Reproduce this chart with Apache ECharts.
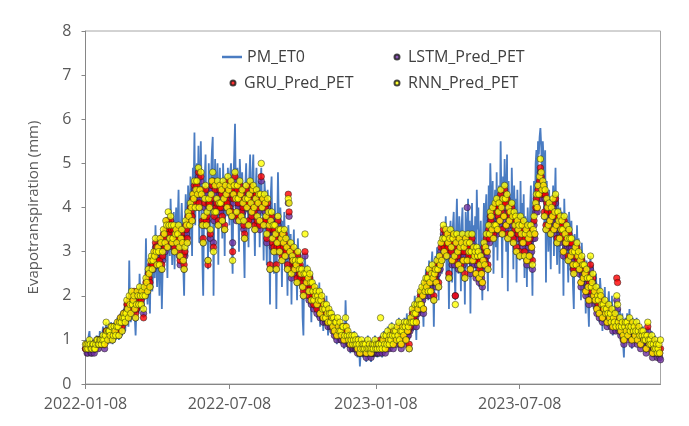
<!DOCTYPE html>
<html><head><meta charset="utf-8">
<script src="https://cdn.jsdelivr.net/npm/echarts@6/dist/echarts.min.js"></script>
<style>html,body{margin:0;padding:0;background:#fff}#c{width:689px;height:426px}</style>
</head><body><div id="c"></div>
<script>
const startDate = [2022, 0, 8];
const tickLabels = ['2022-01-08', '2022-07-08', '2023-01-08', '2023-07-08'];
const seriesNames = ['PM_ET0', 'LSTM_Pred_PET', 'GRU_Pred_PET', 'RNN_Pred_PET'];

const pmET0 = [
0.9,1.0,0.8,0.7,1.1,1.2,0.9,0.8,0.7,0.9,
1.0,0.8,0.7,0.9,1.1,1.0,0.8,0.9,1.2,1.0,
0.9,1.1,1.3,1.0,0.8,1.2,1.4,1.1,0.9,1.3,
1.2,1.0,1.4,1.3,0.9,1.1,1.4,1.2,1.0,1.3,
1.5,1.2,1.0,1.4,1.6,1.3,1.1,1.5,1.7,1.4,
1.2,1.6,1.8,1.5,1.3,2.8,1.7,1.4,1.9,1.6,
1.8,2.0,1.5,1.1,1.7,2.1,1.9,1.6,2.5,2.0,
1.7,2.2,1.9,1.5,2.4,2.0,3.3,2.2,1.8,2.6,
2.3,1.6,2.7,2.9,2.1,2.5,3.0,2.4,3.6,2.8,
2.2,3.1,2.7,2.0,3.3,2.9,1.7,2.6,3.4,3.0,
2.8,3.6,3.2,2.4,3.8,3.4,2.9,4.2,3.5,2.7,
3.3,3.9,2.6,3.5,4.0,3.1,3.7,4.4,3.2,2.8,
3.6,4.1,3.4,2.6,2.0,3.5,4.3,3.9,2.9,4.5,
4.0,3.3,4.7,4.2,2.9,4.9,4.4,5.7,3.6,4.8,
5.0,4.1,5.4,3.2,4.6,5.5,4.3,2.8,2.0,3.8,
4.7,5.2,3.5,4.4,2.6,5.0,4.1,3.0,4.8,5.3,
5.6,2.0,4.2,5.1,3.6,4.5,5.0,2.7,4.4,4.9,
4.0,4.6,3.3,5.0,4.3,2.9,4.7,4.4,3.8,4.9,
4.5,3.6,4.8,5.0,3.2,2.5,4.6,5.2,5.9,4.4,
3.7,4.9,4.2,3.0,5.1,4.6,3.5,4.8,4.1,3.3,
2.4,4.5,5.0,3.9,4.3,3.1,4.7,5.2,4.0,3.6,
4.8,5.2,3.9,2.9,4.4,4.9,3.6,4.2,4.6,3.1,
4.5,4.9,3.8,4.1,2.8,4.6,4.3,3.4,2.7,4.4,
4.0,3.5,1.8,4.3,4.7,3.2,3.9,2.5,4.1,3.6,
1.7,3.4,4.8,3.8,2.9,4.0,3.5,2.2,3.7,3.3,
3.9,2.6,3.5,3.1,2.0,3.6,3.3,2.8,3.4,1.8,
3.2,2.9,3.5,2.4,3.1,2.7,1.9,3.3,2.8,2.5,
3.0,2.2,2.7,1.5,1.1,2.6,2.9,2.3,2.0,2.7,
2.4,1.8,2.6,2.2,1.4,2.5,2.1,1.7,2.3,1.9,
2.2,1.5,2.0,1.8,2.3,1.3,1.9,2.1,1.6,1.2,
1.9,1.7,1.4,2.0,1.5,1.1,1.8,1.6,1.3,1.7,
1.5,1.2,1.6,1.0,1.4,1.3,0.9,1.5,1.2,1.1,
1.4,1.1,0.9,1.3,1.2,0.8,1.0,1.9,1.3,1.0,
1.1,0.9,1.2,0.7,1.0,1.1,0.8,0.9,1.2,0.7,
1.0,0.8,0.6,1.1,0.9,0.4,0.7,1.0,0.8,0.6,
0.9,0.7,1.0,0.5,0.8,1.1,0.6,0.9,0.7,0.5,
0.8,1.0,0.6,0.9,1.1,0.7,0.8,0.6,1.0,0.9,
0.7,1.1,0.8,0.6,1.0,1.2,0.9,0.7,1.1,0.8,
1.3,1.0,0.8,1.2,0.9,1.4,1.1,0.8,1.3,1.0,
1.2,0.9,1.4,1.1,1.5,1.0,1.3,0.8,1.2,1.4,
1.1,1.5,1.3,0.9,1.6,1.2,1.4,1.0,1.5,1.7,
1.4,1.8,1.2,1.6,2.0,1.5,1.0,1.9,1.7,2.1,
1.8,2.2,1.6,2.3,1.9,1.3,2.4,2.0,2.6,2.2,
2.5,1.9,2.8,2.3,2.0,2.7,3.0,2.4,1.3,2.6,
2.9,2.2,3.1,2.6,1.9,3.0,2.7,3.4,2.5,3.2,
3.6,2.8,3.3,3.8,2.4,3.5,3.1,1.7,3.4,3.7,
3.0,2.3,3.6,3.9,2.7,1.9,3.5,4.2,3.2,2.5,
3.8,3.3,2.1,3.6,4.0,2.8,3.4,1.8,3.9,3.5,
2.6,4.2,3.1,3.7,1.6,3.3,4.1,2.9,3.6,3.0,
3.8,2.4,4.4,3.5,4.0,2.2,3.2,3.7,2.7,1.9,
3.4,4.1,2.6,3.9,4.3,3.0,2.1,4.5,3.6,5.0,
4.2,3.3,4.6,2.5,3.8,4.4,3.1,4.8,2.8,4.0,
4.5,3.6,5.5,4.1,2.4,4.7,3.9,5.1,4.4,3.0,
5.2,2.1,4.6,3.8,4.3,3.2,4.9,4.0,2.6,4.5,
3.7,4.2,2.3,4.4,3.5,3.9,2.8,4.6,3.3,4.1,
3.0,4.3,2.4,3.8,3.6,2.2,4.0,3.4,2.6,3.9,
4.5,3.2,2.0,4.1,4.6,3.6,5.0,5.3,4.4,5.5,
5.2,5.6,5.8,5.4,4.8,5.5,5.1,3.6,5.3,2.3,
4.6,4.0,3.0,4.4,3.5,2.6,4.2,3.8,4.5,2.9,
4.1,4.9,3.4,2.7,4.3,3.7,2.5,4.0,3.3,3.9,
3.6,2.0,4.2,3.4,2.8,3.8,3.1,2.3,3.9,3.5,
2.6,3.7,3.0,2.2,1.7,3.4,3.2,2.5,3.6,2.9,
3.3,2.4,3.0,1.9,3.2,2.7,2.1,2.9,2.5,1.6,
2.8,2.3,1.8,1.3,2.6,2.9,2.0,2.4,2.7,1.7,
2.3,2.0,2.5,1.6,2.2,1.9,1.4,2.4,2.1,1.8,
1.2,2.0,1.7,2.2,1.5,1.9,1.3,1.8,2.1,1.6,
1.8,1.4,2.0,1.1,1.7,1.5,1.9,1.2,1.6,1.8,
1.5,1.3,1.7,1.0,1.4,1.6,0.9,0.6,1.3,1.5,
1.2,1.6,1.0,1.4,1.7,1.1,1.3,0.8,1.5,1.2,
1.4,1.0,1.3,1.5,0.9,1.2,1.4,1.1,0.8,1.3,
1.1,1.3,0.9,1.2,1.0,0.7,1.2,1.3,1.0,0.8,
1.1,0.9,1.2,0.6,1.0,0.8,1.1,0.7,0.9,0.6,
0.8,0.6,0.7,0.55
];

const lstmPred = [
0.8,0.8,0.7,0.7,0.8,0.9,0.8,0.7,0.7,0.8,
0.8,0.7,0.8,0.8,0.9,0.9,0.8,0.9,0.9,0.9,
0.9,0.9,1.0,0.9,0.8,1.0,1.2,1.1,1.0,1.1,
1.1,1.0,1.2,1.2,1.0,1.1,1.2,1.2,1.1,1.2,
1.3,1.3,1.1,1.3,1.4,1.4,1.2,1.4,1.5,1.5,
1.4,1.5,1.7,1.7,1.5,1.8,1.8,1.6,1.9,1.8,
1.8,1.9,1.7,1.5,1.7,1.9,2.0,1.8,2.0,2.0,
1.8,2.0,2.0,1.6,2.0,2.0,2.2,2.1,2.1,2.4,
2.3,2.2,2.6,2.7,2.6,2.6,2.8,2.9,3.1,3.0,
2.7,2.9,3.0,2.7,3.1,3.1,2.6,2.8,3.3,3.2,
3.0,3.4,3.5,3.1,3.6,3.4,3.2,3.6,3.4,3.2,
3.1,3.4,3.0,3.2,3.3,3.2,3.2,3.4,2.9,2.7,
3.1,3.3,3.2,2.8,2.6,2.9,3.5,3.4,3.2,3.7,
3.6,3.6,3.9,3.8,3.7,4.1,4.2,4.4,4.0,4.2,
4.4,4.3,4.7,4.0,4.2,4.6,4.3,3.6,3.2,3.6,
4.0,4.3,3.6,3.7,2.8,4.0,4.0,3.3,4.1,4.4,
4.5,3.2,3.7,4.3,3.9,4.0,4.4,3.6,3.9,4.3,
3.9,4.2,3.7,4.4,4.0,3.5,4.3,4.1,4.0,4.5,
4.2,3.9,4.3,4.4,3.8,3.2,4.1,4.3,4.6,4.2,
3.7,4.3,4.0,3.7,4.4,4.1,3.8,4.2,3.9,3.5,
3.3,4.0,4.3,4.0,4.0,3.6,4.1,4.4,3.9,3.7,
4.2,4.3,3.8,3.5,4.0,4.2,3.6,3.9,4.1,3.5,
4.1,4.6,4.0,4.0,3.6,4.1,3.9,3.6,3.2,4.0,
3.7,3.4,2.6,3.5,3.7,3.1,3.4,3.0,3.4,3.2,
2.6,3.0,3.6,3.3,3.0,3.3,3.1,2.8,3.2,3.0,
3.3,2.9,3.1,2.9,2.6,4.1,3.8,3.0,3.0,2.4,
2.7,2.6,2.9,2.5,2.6,2.5,2.3,2.8,2.6,2.4,
2.6,2.3,2.4,2.2,2.0,2.3,2.9,2.3,2.1,2.4,
2.2,1.9,2.3,2.1,1.8,2.1,1.9,1.7,2.0,1.8,
1.9,1.6,1.8,1.7,1.9,1.5,1.7,1.8,1.5,1.4,
1.6,1.5,1.4,1.6,1.4,1.3,1.5,1.4,1.3,1.4,
1.3,1.2,1.3,1.1,1.2,1.2,1.0,1.3,1.1,1.1,
1.2,1.0,1.0,1.1,1.1,0.9,1.0,1.2,1.1,1.0,
1.0,0.9,0.9,0.8,0.9,0.9,0.8,0.8,0.9,0.8,
0.8,0.8,0.7,0.8,0.8,0.7,0.7,0.8,0.8,0.7,
0.7,0.7,0.7,0.6,0.7,0.8,0.7,0.7,0.7,0.6,
0.7,0.7,0.7,0.7,0.8,0.7,0.7,0.7,0.7,0.8,
0.7,0.9,0.8,0.7,0.8,0.9,0.8,0.7,0.9,0.8,
1.0,0.9,0.8,0.9,0.9,1.1,1.0,0.8,1.0,1.0,
1.0,0.9,1.1,1.0,1.2,0.9,1.0,0.8,1.0,1.1,
1.0,1.2,1.2,0.9,1.2,1.1,1.1,0.8,1.2,1.3,
1.3,1.5,1.3,1.4,1.6,1.5,1.3,1.6,1.6,1.7,
1.7,1.9,1.7,2.0,1.9,1.6,2.1,2.0,2.2,2.1,
2.2,2.0,2.4,2.2,2.0,2.3,2.5,2.3,1.9,2.3,
2.4,2.2,2.6,2.5,2.2,2.7,2.6,3.0,2.8,3.1,
3.4,3.0,3.1,3.3,2.9,3.2,3.0,2.4,3.1,3.3,
2.9,2.7,3.1,3.2,2.7,2.0,3.0,3.2,2.8,2.6,
3.1,2.9,2.6,3.0,3.2,2.7,2.9,2.4,3.1,3.0,
4.0,3.2,2.8,3.0,2.5,2.8,3.2,2.7,2.9,2.7,
2.8,2.4,2.9,2.7,2.8,2.3,2.5,2.7,2.4,2.2,
2.6,3.0,2.7,2.9,3.2,2.9,2.6,3.4,3.2,3.7,
3.6,3.4,3.8,3.3,3.4,3.9,3.5,4.0,3.4,3.7,
3.9,3.6,4.2,3.8,3.4,4.0,3.7,4.3,4.0,3.5,
4.1,3.3,3.8,3.6,3.7,3.3,3.9,3.6,3.2,3.7,
3.4,3.6,3.0,3.5,3.3,3.4,2.9,3.6,3.2,3.4,
3.1,3.5,2.9,3.2,3.3,2.7,3.4,3.1,2.8,3.2,
3.4,3.0,2.6,3.3,3.6,3.3,3.9,4.1,3.9,4.3,
4.2,4.5,4.8,4.6,4.2,4.4,4.3,3.8,4.2,3.5,
4.0,3.8,3.5,3.9,3.6,3.4,3.8,3.7,4.0,3.4,
3.7,4.1,3.5,3.2,3.7,3.5,3.2,3.6,3.4,3.5,
3.3,2.9,3.6,3.2,3.1,3.4,3.1,2.8,3.3,3.1,
2.8,3.1,2.9,2.6,2.5,2.8,2.9,2.6,3.0,2.7,
2.8,2.5,2.6,2.2,2.7,2.5,2.3,2.5,2.4,2.0,
2.4,2.3,2.1,1.8,2.2,2.6,2.0,2.1,2.3,1.9,
1.9,1.8,2.0,1.6,1.8,1.7,1.5,1.9,1.8,1.6,
1.4,1.6,1.5,1.7,1.5,1.5,1.3,1.4,1.6,1.4,
1.4,1.3,1.5,1.2,1.3,1.3,1.4,1.2,1.9,1.7,
1.3,1.2,1.3,1.1,1.2,1.2,1.0,0.9,1.1,1.2,
1.1,1.2,1.0,1.1,1.3,1.1,1.1,0.9,1.2,1.1,
1.1,1.0,1.1,1.2,0.9,1.0,1.1,1.0,0.8,1.0,
1.0,1.0,0.9,1.0,0.9,0.7,0.9,1.2,0.9,0.8,
0.8,0.8,0.9,0.6,0.8,0.7,0.8,0.7,0.7,0.6,
0.7,0.7,0.6,0.55
];

const gruPred = [
0.8,0.9,0.8,0.8,0.9,0.9,0.8,0.8,0.9,0.9,
0.8,0.8,0.9,0.9,0.9,1.0,0.9,1.0,1.0,0.9,
1.0,1.0,1.0,0.9,0.9,1.0,1.2,1.1,1.1,1.2,
1.1,1.2,1.2,1.3,1.1,1.2,1.2,1.3,1.2,1.3,
1.3,1.4,1.2,1.3,1.5,1.5,1.3,1.4,1.6,1.6,
1.5,1.5,1.8,1.8,1.6,1.9,1.9,1.7,2.0,1.9,
1.8,2.1,1.8,1.6,1.7,2.0,2.1,1.9,2.1,2.1,
1.9,2.0,2.1,1.5,2.1,2.1,2.3,2.2,2.2,2.5,
2.4,2.3,2.7,2.8,2.7,2.7,2.9,3.0,3.2,3.1,
2.8,3.0,3.1,2.8,3.2,3.3,2.7,2.9,3.4,3.3,
3.1,3.5,3.7,3.2,3.7,3.5,3.4,3.7,3.5,3.3,
3.2,3.5,3.1,3.3,3.4,3.3,3.3,3.5,3.0,2.8,
3.2,3.4,3.3,2.9,2.7,3.0,3.6,3.5,3.3,3.8,
3.7,3.7,4.0,3.9,3.8,4.2,4.3,4.5,4.1,4.3,
4.5,4.4,4.8,4.1,4.3,4.7,4.4,3.7,3.3,3.7,
4.1,4.4,3.7,3.8,2.7,4.1,4.1,3.4,4.2,4.5,
4.6,3.1,3.8,4.4,4.0,4.1,4.5,3.7,4.0,4.4,
4.0,4.3,3.8,4.5,4.1,3.6,4.4,4.2,4.1,4.6,
4.3,4.0,4.4,4.5,3.9,3.0,4.2,4.4,4.7,4.3,
3.8,4.4,4.1,3.8,4.5,4.2,3.9,4.3,4.0,3.6,
3.4,4.1,4.4,4.1,4.1,3.7,4.2,4.5,4.0,3.8,
4.3,4.4,3.9,3.6,4.1,4.3,3.7,4.0,4.2,3.6,
4.2,4.7,4.1,4.1,3.7,4.2,4.0,3.7,3.3,4.1,
3.8,3.5,2.7,3.6,3.8,3.2,3.5,3.1,3.5,3.3,
2.7,3.1,3.7,3.4,3.1,3.4,3.2,2.9,3.3,3.1,
3.4,3.0,3.2,3.0,2.7,4.3,3.9,3.1,3.1,2.6,
2.8,2.7,3.0,2.7,2.7,2.6,2.4,2.9,2.7,2.5,
2.7,2.4,2.5,2.3,2.1,2.4,3.0,2.4,2.2,2.5,
2.3,2.0,2.4,2.2,1.9,2.2,2.0,1.8,2.1,1.9,
2.0,1.7,1.9,1.8,2.0,1.6,1.8,1.9,1.6,1.5,
1.7,1.6,1.5,1.7,1.5,1.4,1.6,1.5,1.4,1.5,
1.4,1.3,1.4,1.2,1.3,1.3,1.1,1.4,1.2,1.2,
1.3,1.1,1.1,1.2,1.2,1.0,1.1,1.3,1.2,1.1,
1.1,1.0,1.0,0.9,1.0,1.0,0.9,0.9,1.0,0.9,
0.9,0.9,0.8,0.9,0.9,0.7,0.8,0.9,0.9,0.8,
0.8,0.8,0.8,0.7,0.8,0.9,0.8,0.8,0.8,0.7,
0.8,0.8,0.8,0.8,0.9,0.8,0.8,0.8,0.8,0.9,
0.8,1.0,0.9,0.8,0.9,1.0,0.9,0.8,1.0,0.9,
1.1,1.0,0.9,1.0,1.0,1.2,1.1,0.9,1.1,1.1,
1.1,1.0,1.2,1.1,1.3,1.0,1.1,0.9,1.1,1.2,
1.1,1.3,1.3,1.0,1.3,1.2,1.2,0.9,1.3,1.4,
1.4,1.6,1.4,1.5,1.7,1.6,1.4,1.7,1.7,1.8,
1.8,2.0,1.8,2.1,2.0,1.7,2.2,2.1,2.3,2.2,
2.3,2.1,2.5,2.3,2.1,2.4,2.6,2.4,2.0,2.4,
2.5,2.3,2.7,2.6,2.3,2.8,2.7,3.1,2.9,3.2,
3.5,3.1,3.2,3.4,3.0,3.3,3.1,2.5,3.2,3.4,
3.0,2.8,3.2,3.3,2.8,2.0,3.1,3.3,2.9,2.7,
3.2,3.0,2.7,3.1,3.3,2.8,3.0,2.5,3.2,3.1,
2.8,3.3,2.9,3.1,2.6,2.9,3.3,2.8,3.0,2.8,
2.9,2.5,3.0,2.8,2.9,2.4,2.6,2.8,2.5,2.3,
2.7,3.1,2.8,3.0,3.3,3.0,2.7,3.5,3.3,3.8,
3.7,3.5,3.9,3.4,3.5,4.0,3.6,4.1,3.5,3.8,
4.0,3.7,4.3,3.9,3.5,4.1,3.8,4.4,4.1,3.6,
4.2,3.4,3.9,3.7,3.8,3.4,4.0,3.7,3.3,3.8,
3.5,3.7,3.1,3.6,3.4,3.5,3.0,3.7,3.3,3.5,
3.2,3.6,3.0,3.3,3.4,2.8,3.5,3.2,2.9,3.3,
3.5,3.1,2.8,3.4,3.7,3.4,4.0,4.2,4.0,4.4,
4.3,4.6,4.9,4.7,4.3,4.5,4.4,3.9,4.3,3.6,
4.1,3.9,3.6,4.0,3.7,3.5,3.9,3.8,4.1,3.5,
3.8,4.2,3.6,3.3,3.8,3.6,3.3,3.7,3.5,3.6,
3.4,3.0,3.7,3.3,3.2,3.5,3.2,2.9,3.4,3.2,
2.9,3.2,3.0,2.7,2.6,2.9,3.0,2.7,3.1,2.8,
2.9,2.6,2.7,2.3,2.8,2.6,2.4,2.6,2.5,2.1,
2.5,2.4,2.2,1.9,2.3,2.7,2.1,2.2,2.4,2.0,
2.0,1.9,2.1,1.7,1.9,1.8,1.6,2.0,1.9,1.7,
1.5,1.7,1.6,1.8,1.6,1.6,1.4,1.5,1.7,1.5,
1.5,1.4,1.6,1.3,1.4,1.4,1.5,1.3,2.4,2.3,
1.4,1.3,1.4,1.2,1.3,1.3,1.1,1.0,1.2,1.3,
1.2,1.3,1.1,1.2,1.4,1.2,1.2,1.0,1.3,1.2,
1.2,1.1,1.2,1.3,1.0,1.1,1.2,1.1,0.9,1.1,
1.1,1.1,1.0,1.1,1.0,0.8,1.0,1.3,1.0,0.9,
0.9,0.9,1.0,0.7,0.9,0.8,0.9,0.8,0.8,0.7,
0.8,0.8,0.7,0.8
];

const rnnPred = [
0.9,0.8,0.9,0.8,0.9,1.0,0.9,0.8,0.8,0.9,
0.9,0.8,0.8,0.9,1.0,1.0,0.9,0.9,1.0,1.0,
0.9,1.0,1.1,1.0,0.9,1.1,1.4,1.2,1.0,1.2,
1.2,1.1,1.3,1.3,1.0,1.1,1.3,1.2,1.1,1.3,
1.4,1.3,1.1,1.4,1.5,1.4,1.2,1.5,1.6,1.5,
1.4,1.6,1.9,1.7,1.5,2.0,1.8,1.6,2.1,1.8,
1.9,2.0,1.7,1.5,1.8,2.1,2.0,1.8,2.2,2.0,
1.8,2.1,2.0,1.7,2.2,2.0,2.4,2.3,2.1,2.6,
2.5,2.2,2.8,2.9,2.6,2.8,3.0,2.9,3.3,3.0,
2.7,3.1,3.0,2.7,3.3,3.2,2.6,3.0,3.5,3.4,
3.2,3.7,3.6,3.1,3.9,3.6,3.3,3.8,3.6,3.2,
3.3,3.6,3.0,3.4,3.5,3.2,3.4,3.6,3.1,2.9,
3.3,3.5,3.2,2.8,2.6,3.1,3.7,3.6,3.2,3.9,
3.8,3.6,4.1,4.0,3.7,4.3,4.2,4.6,4.0,4.4,
4.6,4.3,4.9,4.0,4.4,4.8,4.3,3.6,3.2,3.8,
4.2,4.5,3.6,3.9,2.8,4.2,4.0,3.5,4.3,4.6,
4.8,3.0,3.9,4.5,3.9,4.2,4.6,3.6,4.1,4.5,
4.1,4.4,3.7,4.6,4.2,3.5,4.5,4.3,4.0,4.7,
4.4,3.9,4.5,4.6,3.8,2.8,4.3,4.5,4.8,4.2,
3.9,4.5,4.2,3.7,4.6,4.3,3.8,4.4,4.1,3.7,
3.3,4.2,4.5,4.0,4.2,3.6,4.3,4.6,4.1,3.9,
4.4,4.5,4.0,3.5,4.2,4.4,3.8,4.1,4.3,3.7,
4.3,5.0,4.0,4.2,3.6,4.3,4.1,3.8,3.4,4.2,
3.9,3.6,2.6,3.7,3.9,3.3,3.6,3.0,3.6,3.4,
2.6,3.2,3.8,3.5,3.0,3.5,3.3,2.8,3.4,3.2,
3.5,2.9,3.3,3.1,2.6,4.2,4.1,3.0,3.2,2.5,
2.9,2.8,3.1,2.6,2.8,2.7,2.3,3.0,2.8,2.6,
2.8,2.5,2.6,2.2,2.0,2.5,3.4,2.5,2.3,2.6,
2.4,2.1,2.5,2.3,1.9,2.3,2.1,1.9,2.2,2.0,
2.1,1.8,2.0,1.9,2.1,1.6,1.9,2.0,1.7,1.5,
1.8,1.7,1.5,1.8,1.6,1.4,1.7,1.6,1.4,1.6,
1.5,1.3,1.5,1.2,1.4,1.4,1.1,1.5,1.3,1.2,
1.4,1.2,1.1,1.3,1.3,1.0,1.1,1.5,1.3,1.1,
1.2,1.0,1.1,0.9,1.0,1.1,0.9,1.0,1.1,0.9,
1.0,0.9,0.8,1.0,0.9,0.7,0.8,1.0,0.9,0.8,
0.9,0.8,0.9,0.7,0.8,1.0,0.8,0.9,0.8,0.7,
0.8,0.9,0.8,0.9,1.0,0.8,0.9,0.8,0.9,0.9,
0.8,1.5,0.9,0.8,1.0,1.1,0.9,0.8,1.1,0.9,
1.2,1.0,0.9,1.1,1.0,1.3,1.1,0.9,1.2,1.1,
1.2,1.0,1.3,1.1,1.4,1.0,1.2,0.9,1.2,1.3,
1.1,1.4,1.3,1.0,1.4,1.2,1.3,0.8,1.4,1.5,
1.4,1.7,1.4,1.6,1.8,1.6,1.4,1.8,1.7,1.9,
1.8,2.1,1.8,2.2,2.0,1.7,2.3,2.1,2.4,2.2,
2.4,2.1,2.6,2.3,2.1,2.5,2.7,2.4,1.9,2.5,
2.6,2.3,2.8,2.6,2.2,2.9,2.7,3.2,2.8,3.3,
3.6,3.0,3.3,3.5,2.9,3.4,3.2,2.4,3.3,3.5,
3.1,2.8,3.3,3.4,2.9,1.8,3.2,3.4,3.0,2.7,
3.3,3.1,2.6,3.2,3.4,2.8,3.1,2.4,3.3,3.2,
2.8,3.4,3.0,3.2,2.6,3.0,3.4,2.8,3.1,2.9,
3.0,2.5,3.1,2.9,3.0,2.4,2.7,2.9,2.5,2.3,
2.8,3.2,2.7,3.1,3.4,3.0,2.6,3.6,3.4,3.9,
3.8,3.5,4.0,3.3,3.6,4.1,3.6,4.2,3.5,3.9,
4.1,3.7,4.4,4.0,3.4,4.2,3.8,4.5,4.2,3.6,
4.3,3.3,4.0,3.7,3.9,3.4,4.1,3.8,3.2,3.9,
3.6,3.8,3.0,3.7,3.5,3.6,2.9,3.8,3.4,3.6,
3.2,3.7,2.9,3.4,3.5,2.8,3.6,3.3,2.9,3.4,
3.6,3.1,2.7,3.5,3.8,3.4,4.1,4.3,4.0,4.5,
4.3,4.7,5.1,4.8,4.4,4.6,4.5,3.8,4.4,3.5,
4.2,4.0,3.6,4.1,3.7,3.4,4.0,3.8,4.2,3.5,
3.9,4.3,3.6,3.2,3.9,3.7,3.3,3.8,3.5,3.7,
3.5,3.0,3.8,3.4,3.2,3.6,3.3,2.8,3.5,3.3,
2.9,3.3,3.0,2.7,2.5,3.0,3.1,2.7,3.2,2.9,
3.0,2.6,2.8,2.3,2.9,2.7,2.4,2.7,2.5,2.1,
2.6,2.4,2.2,1.9,2.4,2.9,2.2,2.3,2.5,2.0,
2.1,1.9,2.2,1.7,2.0,1.9,1.6,2.1,2.0,1.8,
1.5,1.8,1.7,1.9,1.6,1.7,1.4,1.6,1.8,1.5,
1.6,1.4,1.7,1.3,1.5,1.4,1.6,1.3,2.0,1.8,
1.4,1.3,1.5,1.2,1.3,1.4,1.1,1.0,1.3,1.4,
1.2,1.4,1.1,1.3,1.5,1.2,1.3,1.0,1.4,1.2,
1.3,1.1,1.2,1.4,1.0,1.2,1.3,1.1,0.9,1.2,
1.1,1.2,1.0,1.1,1.0,0.8,1.1,1.4,1.0,0.9,
1.0,0.9,1.1,0.7,0.9,0.8,1.0,0.8,0.9,0.7,
0.8,0.9,0.7,1.0
];

// daily category labels starting at startDate
const categories = [];
const t0 = Date.UTC(startDate[0], startDate[1], startDate[2]);
for (let i = 0; i < pmET0.length; i++) {
  categories.push(new Date(t0 + i * 86400000).toISOString().slice(0, 10));
}

const FONT = "'Open Sans', sans-serif";
const chart = echarts.init(document.getElementById('c'), null, { renderer: 'canvas' });
const showTick = (idx, val) => tickLabels.indexOf(val) >= 0;
const markerStyle = (c) => ({ color: c, borderColor: '#1a1a1a', borderWidth: 0.6 });
const legendBase = (item, left, top, w, h) => ({
  data: [item], left: left, top: top, padding: 0, itemGap: 0,
  itemWidth: w, itemHeight: h, selectedMode: false,
  textStyle: { fontFamily: FONT, fontSize: 16, color: '#404040' }
});

chart.setOption({
  animation: false,
  backgroundColor: '#ffffff',
  grid: { left: 85.5, right: 28.5, top: 31, bottom: 42, show: true, borderColor: '#a6a6a6', borderWidth: 1 },
  legend: [
    legendBase({ name: seriesNames[0], icon: 'rect' }, 222, 49, 20, 2.5),
    legendBase({ name: seriesNames[1], icon: 'circle' }, 393.5, 49, 12, 5),
    legendBase({ name: seriesNames[2], icon: 'circle' }, 229.5, 75, 12, 5),
    legendBase({ name: seriesNames[3], icon: 'circle' }, 393.5, 75, 12, 5)
  ],
  xAxis: {
    type: 'category', data: categories, boundaryGap: false,
    axisLine: { lineStyle: { color: '#868686', width: 1 } },
    axisTick: { show: true, interval: showTick, length: 5, lineStyle: { color: '#868686' } },
    axisLabel: { interval: showTick, margin: 12, fontFamily: FONT, fontSize: 16, color: '#595959' },
    splitLine: { show: false }
  },
  yAxis: {
    type: 'value', min: 0, max: 8, interval: 1,
    name: 'Evapotranspiration (mm)', nameLocation: 'middle', nameGap: 44, nameRotate: 90,
    nameTextStyle: { fontFamily: FONT, fontSize: 15, color: '#595959' },
    axisLine: { show: true, lineStyle: { color: '#868686', width: 1 } },
    axisTick: { show: true, length: 4, lineStyle: { color: '#868686' } },
    axisLabel: { margin: 14, fontFamily: FONT, fontSize: 16, color: '#595959' },
    splitLine: { show: false }
  },
  series: [
    { name: seriesNames[0], type: 'line', z: 1, data: pmET0, symbol: 'none', showSymbol: false,
      lineStyle: { color: '#4A7CC2', width: 1.8 }, itemStyle: { color: '#4A7CC2' } },
    { name: seriesNames[1], type: 'scatter', z: 3, data: lstmPred, symbol: 'circle', symbolSize: 6.5, itemStyle: markerStyle('#7030A0') },
    { name: seriesNames[2], type: 'scatter', z: 4, data: gruPred, symbol: 'circle', symbolSize: 6.5, itemStyle: markerStyle('#FF0000') },
    { name: seriesNames[3], type: 'scatter', z: 5, data: rnnPred, symbol: 'circle', symbolSize: 6.5, itemStyle: markerStyle('#FFFF00') }
  ]
});
</script></body></html>
